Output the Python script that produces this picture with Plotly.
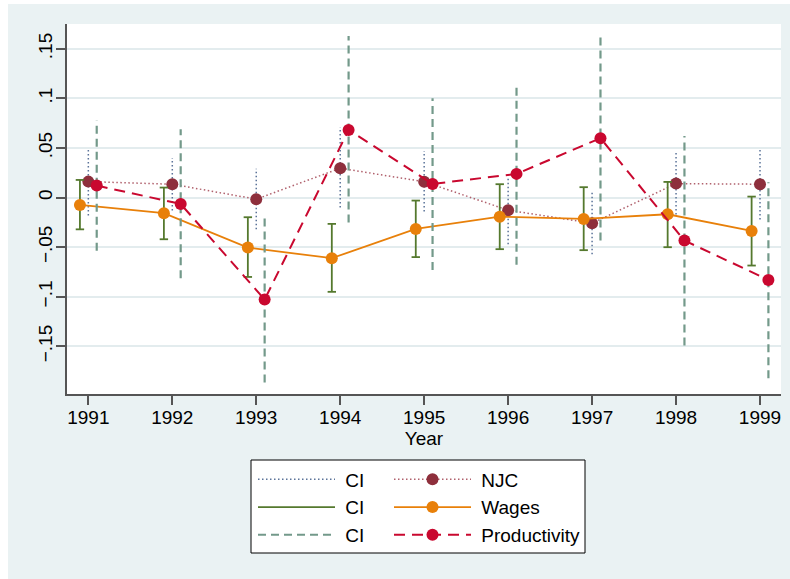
import plotly.graph_objects as go

years = [1991, 1992, 1993, 1994, 1995, 1996, 1997, 1998, 1999]

njc = [0.0161, 0.0135, -0.0016, 0.0296, 0.0160, -0.0127, -0.0258, 0.0141, 0.0135]
njc_lo = [-0.018, -0.013, -0.032, -0.010, -0.014, -0.047, -0.057, -0.017, -0.022]
njc_hi = [0.050, 0.040, 0.029, 0.071, 0.047, 0.021, 0.005, 0.045, 0.049]

wages = [-0.0074, -0.0157, -0.0504, -0.0611, -0.0316, -0.0192, -0.0215, -0.0168, -0.0336]
wages_lo = [-0.032, -0.042, -0.080, -0.095, -0.060, -0.052, -0.053, -0.050, -0.0685]
wages_hi = [0.0178, 0.0101, -0.0198, -0.0265, -0.003, 0.0135, 0.0105, 0.0158, 0.001]

prod = [0.0121, -0.0064, -0.1028, 0.0682, 0.0138, 0.0239, 0.0599, -0.0433, -0.0830]
prod_lo = [-0.0537, -0.0813, -0.1865, -0.025, -0.0729, -0.0678, -0.0433, -0.149, -0.182]
prod_hi = [0.0776, 0.069, -0.0184, 0.163, 0.1002, 0.1153, 0.163, 0.0622, 0.0155]

ytick_vals = [-0.15, -0.1, -0.05, 0, 0.05, 0.1, 0.15]
ytick_text = ["\u2212.15", "\u2212.1", "\u2212.05", "0", ".05", ".1", ".15"]

offsets = {"njc": 0.0, "wages": -0.1, "prod": 0.1}

FONT = "Arial, Liberation Sans, sans-serif"
FS = 19
NB = "\u00a0"

C_CI1 = "#5B7399"
C_NJC = "#8E2F3C"
C_NJC_LINE = "#B0606C"
C_CI2 = "#55792E"
C_WAGES = "#E8800A"
C_CI3 = "#73998A"
C_PROD = "#C9082F"


def seg(xs, lo, hi):
    sx, sy = [], []
    for x, a, b in zip(xs, lo, hi):
        sx += [x, x, None]
        sy += [a, b, None]
    return sx, sy


def shift(xs, d):
    return [x + d for x in xs]


fig = go.Figure()

# CI for NJC (dotted)
sx, sy = seg(shift(years, offsets["njc"]), njc_lo, njc_hi)
fig.add_trace(go.Scatter(x=sx, y=sy, mode="lines", name=NB + "CI",
                         line=dict(color=C_CI1, width=1.5, dash="1.5px,2.5px"),
                         legend="legend", hoverinfo="skip"))
# NJC
fig.add_trace(go.Scatter(x=shift(years, offsets["njc"]), y=njc, mode="lines+markers", name=NB + "NJC",
                         line=dict(color=C_NJC_LINE, width=1.5, dash="1.5px,2.5px"),
                         marker=dict(color=C_NJC, size=12),
                         legend="legend2"))
# CI for wages (solid with caps)
xw = shift(years, offsets["wages"])
sx, sy = seg(xw, wages_lo, wages_hi)
fig.add_trace(go.Scatter(x=sx, y=sy, mode="lines", name=NB + "CI",
                         line=dict(color=C_CI2, width=1.8),
                         legend="legend", hoverinfo="skip"))
fig.add_trace(go.Scatter(x=xw + xw, y=wages_lo + wages_hi, mode="markers", showlegend=False,
                         marker=dict(symbol="line-ew", size=6, line=dict(color=C_CI2, width=1.8)),
                         hoverinfo="skip"))
# Wages
fig.add_trace(go.Scatter(x=xw, y=wages, mode="lines+markers", name=NB + "Wages",
                         line=dict(color=C_WAGES, width=1.8),
                         marker=dict(color=C_WAGES, size=12),
                         legend="legend2"))
# CI for productivity (dashed)
xp = shift(years, offsets["prod"])
sx, sy = seg(xp, prod_lo, prod_hi)
fig.add_trace(go.Scatter(x=sx, y=sy, mode="lines", name=NB + "CI",
                         line=dict(color=C_CI3, width=2.2, dash="8px,5px"),
                         legend="legend", hoverinfo="skip"))
# Productivity
fig.add_trace(go.Scatter(x=xp, y=prod, mode="lines+markers", name=NB + "Productivity",
                         line=dict(color=C_PROD, width=2, dash="11px,7px"),
                         marker=dict(color=C_PROD, size=12),
                         legend="legend2"))

L, R, T, B = 67, 781, 24, 394
W, H = R - L, B - T


def px2x(px):
    return (px - L) / W


def py2y(py):
    return (B - py) / H


shapes = [
    # white strips at top and left of the outer region
    dict(type="rect", xref="paper", yref="paper", x0=px2x(-5), x1=px2x(795), y0=py2y(4), y1=py2y(-5),
         fillcolor="white", line=dict(width=0), layer="above"),
    dict(type="rect", xref="paper", yref="paper", x0=px2x(-5), x1=px2x(8), y0=py2y(585), y1=py2y(-5),
         fillcolor="white", line=dict(width=0), layer="above"),
    # legend box
    dict(type="rect", xref="paper", yref="paper", x0=px2x(251), x1=px2x(585), y0=py2y(553), y1=py2y(460),
         fillcolor="white", line=dict(color="black", width=1), layer="above"),
]

leg_common = dict(orientation="v", xanchor="left", yanchor="top", bgcolor="rgba(0,0,0,0)",
                  borderwidth=0, font=dict(family=FONT, size=FS, color="black"), itemwidth=77,
                  tracegroupgap=0)

fig.update_layout(
    width=790, height=579,
    margin=dict(l=L, r=790 - R, t=T, b=579 - B, pad=0),
    paper_bgcolor="#EAF2F3",
    plot_bgcolor="white",
    font=dict(family=FONT, size=FS, color="black"),
    showlegend=True,
    shapes=shapes,
    legend=dict(x=px2x(253), y=py2y(460.5), **leg_common),
    legend2=dict(x=px2x(389), y=py2y(460.5), **leg_common),
    xaxis=dict(range=[1990.746, 1999.25], tickmode="array", tickvals=years,
               ticktext=[str(y) for y in years], showgrid=False, zeroline=False,
               showline=True, linecolor="#555555", linewidth=1.5,
               ticks="outside", ticklen=9, tickwidth=1.5, tickcolor="#555555",
               tickfont=dict(family=FONT, size=FS, color="black"),
               ticklabelstandoff=-4,
               title=dict(text="Year", font=dict(family=FONT, size=FS, color="black"), standoff=0),
               automargin=False, fixedrange=True),
    yaxis=dict(range=[-0.198, 0.175], tickmode="array", tickvals=ytick_vals, ticktext=ytick_text,
               tickangle=-90, showgrid=True, gridcolor="#E3ECEE", gridwidth=1.5, zeroline=False,
               showline=True, linecolor="#555555", linewidth=1.5,
               ticks="outside", ticklen=9, tickwidth=1.5, tickcolor="#555555",
               tickfont=dict(family=FONT, size=FS, color="black"),
               ticklabelstandoff=-3,
               automargin=False, fixedrange=True),
)

fig.write_html("out.html", config={"displayModeBar": False},
               post_script="document.body.style.margin='0px';"
                           "document.documentElement.style.overflow='hidden';")
